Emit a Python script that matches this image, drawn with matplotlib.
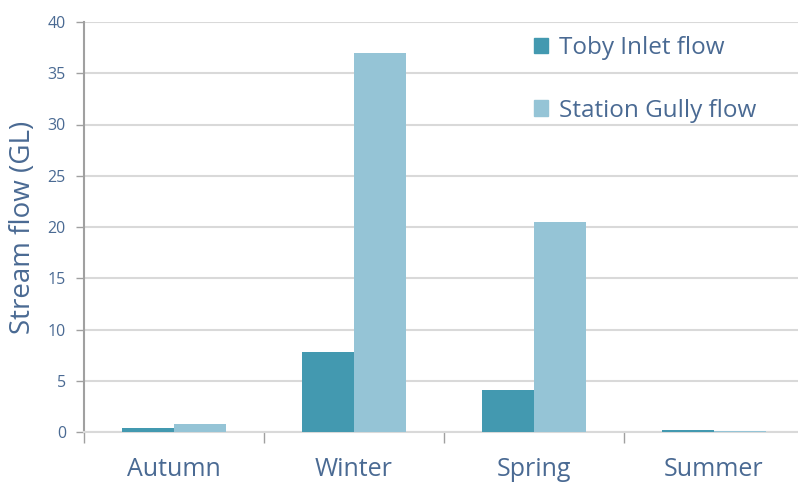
import matplotlib
matplotlib.use("Agg")
import matplotlib.pyplot as plt
from matplotlib.patches import Patch
import numpy as np

plt.rcParams['font.family'] = ['Open Sans', 'DejaVu Sans']

categories = ["Autumn", "Winter", "Spring", "Summer"]
toby_inlet = [0.35, 7.8, 4.1, 0.15]
station_gully = [0.75, 37.0, 20.5, 0.1]
series_names = ["Toby Inlet flow", "Station Gully flow"]
yticks = [0, 5, 10, 15, 20, 25, 30, 35, 40]

text_col = "#4a6a93"
dark = "#4399b0"
light = "#95c4d6"

fig = plt.figure(figsize=(7.98, 4.84), dpi=100)
ax = fig.add_axes([84/798, 1-432/484, 1-84/798, (432-22)/484])

x = np.arange(len(categories))
w = 0.29
ax.bar(x - w/2, toby_inlet, w, color=dark, zorder=3)
ax.bar(x + w/2, station_gully, w, color=light, zorder=3)

ax.set_ylim(0, 40)
ax.set_xlim(-0.5, 3.467)
ax.set_yticks(yticks)
ax.set_yticklabels([str(v) for v in yticks], color=text_col, fontsize=11.5)
ax.yaxis.grid(True, color="#d9d9d9", linewidth=1.5, zorder=0)
ax.tick_params(axis='y', length=6, color="#a0a0a0", width=1, pad=7)

# category boundary ticks
ax.set_xticks([-0.5, 0.5, 1.5, 2.5])
ax.set_xticklabels([])
ax.tick_params(axis='x', length=8, color="#a0a0a0", width=1, direction='out')
ax.set_xticks(x, minor=True)
ax.set_xticklabels(categories, minor=True, color=text_col, fontsize=18)
ax.tick_params(axis='x', which='minor', length=0, pad=18)

for s in ["top", "right"]:
    ax.spines[s].set_visible(False)
ax.spines["bottom"].set_color("#d9d9d9")
ax.spines["bottom"].set_linewidth(1.5)
ax.spines["left"].set_color("#a0a0a0")
ax.spines["left"].set_linewidth(1.5)

ax.set_ylabel("Stream flow (GL)", color=text_col, fontsize=20, labelpad=8)

handles = [Patch(color=dark), Patch(color=light)]
leg = fig.legend(handles, series_names, loc='upper left', bbox_to_anchor=(512/798, 1-14/484),
                 frameon=False, fontsize=17.5, handlelength=0.6, handleheight=0.6,
                 handletextpad=0.45, labelspacing=1.6, labelcolor=text_col)

fig.savefig("out.png", dpi=100, facecolor="white")
